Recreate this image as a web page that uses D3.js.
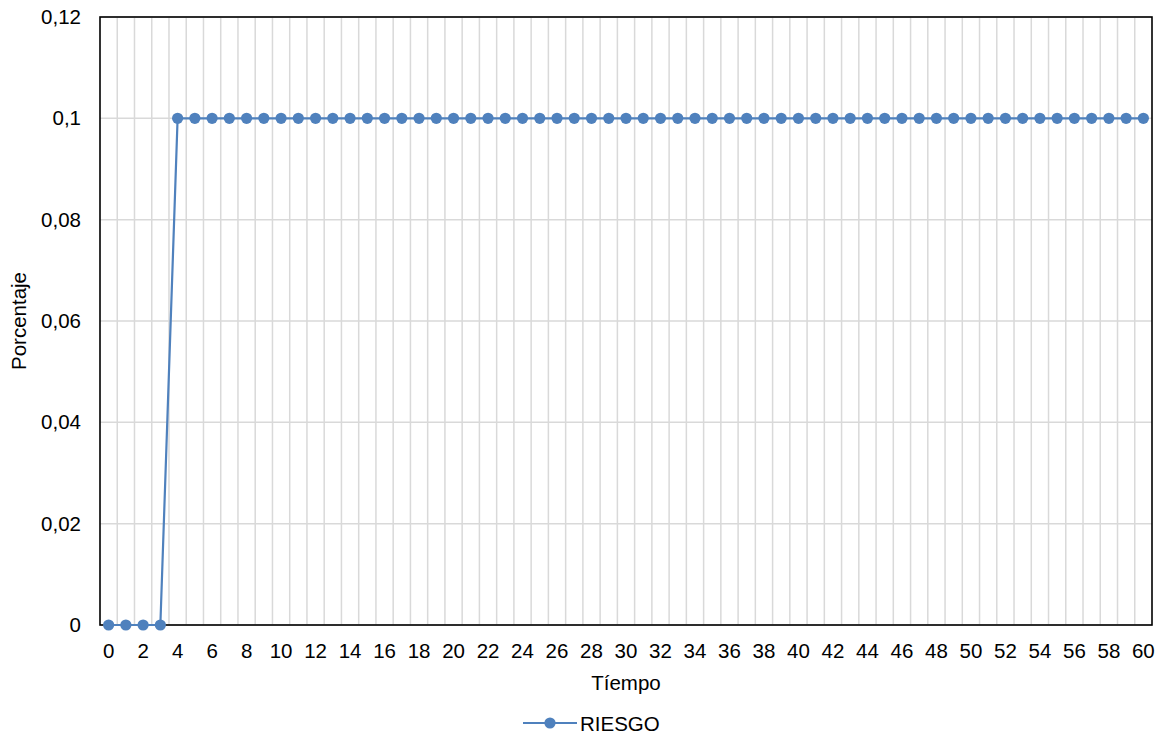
<!DOCTYPE html>
<html>
<head>
<meta charset="utf-8">
<script src="https://cdn.jsdelivr.net/npm/d3@7"></script>
<style>
  body { margin: 0; background: #fff; }
  svg { display: block; font-family: "Liberation Sans", Arial, sans-serif; }
</style>
</head>
<body>
<svg id="chart" width="1160" height="733"></svg>
<script>
// Time steps and risk values
const tiempo = d3.range(0, 61);
const riesgo = [0, 0, 0, 0].concat(new Array(57).fill(0.1));
const yTicks = [0, 0.02, 0.04, 0.06, 0.08, 0.1, 0.12];
const seriesName = "RIESGO";
const xTitle = "Tíempo";
const yTitle = "Porcentaje";

const svg = d3.select("#chart");
const plot = { left: 100, right: 1152, top: 17, bottom: 625 };
const color = "#4f81bd";
const fontSize = 20.5;

const x = d3.scaleBand()
  .domain(tiempo)
  .range([plot.left, plot.right])
  .paddingInner(0).paddingOuter(0);
const y = d3.scaleLinear().domain([0, 0.12]).range([plot.bottom, plot.top]);
const xc = d => x(d) + x.bandwidth() / 2;

// Horizontal gridlines
svg.append("g")
  .selectAll("line")
  .data(yTicks)
  .join("line")
  .attr("x1", plot.left).attr("x2", plot.right)
  .attr("y1", d => y(d)).attr("y2", d => y(d))
  .attr("stroke", "#d9d9d9").attr("stroke-width", 1.5);

// Vertical gridlines at category boundaries
svg.append("g")
  .selectAll("line")
  .data(tiempo.slice(1))
  .join("line")
  .attr("x1", d => x(d)).attr("x2", d => x(d))
  .attr("y1", plot.top).attr("y2", plot.bottom)
  .attr("stroke", "#d9d9d9").attr("stroke-width", 1.5);

// Plot border
svg.append("rect")
  .attr("x", plot.left).attr("y", plot.top)
  .attr("width", plot.right - plot.left).attr("height", plot.bottom - plot.top)
  .attr("fill", "none").attr("stroke", "#000").attr("stroke-width", 1.6);

// Y axis labels
const yAxis = d3.axisLeft(y)
  .tickValues(yTicks)
  .tickSize(0)
  .tickPadding(19)
  .tickFormat(d => d3.format("~g")(+d.toFixed(2)).replace(".", ","));
const gy = svg.append("g").attr("transform", `translate(${plot.left},0)`).call(yAxis);
gy.select(".domain").remove();
gy.selectAll("text").attr("font-size", fontSize).attr("fill", "#000")
  .attr("font-family", "Liberation Sans, Arial, sans-serif");

// X axis labels (every second step)
const xAxis = d3.axisBottom(x)
  .tickValues(tiempo.filter(d => d % 2 === 0))
  .tickSize(0)
  .tickPadding(18);
const gx = svg.append("g").attr("transform", `translate(0,${plot.bottom})`).call(xAxis);
gx.select(".domain").remove();
gx.selectAll("text").attr("font-size", fontSize).attr("fill", "#000")
  .attr("font-family", "Liberation Sans, Arial, sans-serif");

// Series line and markers
const line = d3.line().x((d, i) => xc(tiempo[i])).y(d => y(d));
svg.append("path")
  .datum(riesgo)
  .attr("d", line)
  .attr("fill", "none").attr("stroke", color).attr("stroke-width", 2.2);

svg.append("g")
  .selectAll("circle")
  .data(riesgo)
  .join("circle")
  .attr("cx", (d, i) => xc(tiempo[i]))
  .attr("cy", d => y(d))
  .attr("r", 5.6)
  .attr("fill", color);

// Axis titles
svg.append("text")
  .attr("x", (plot.left + plot.right) / 2).attr("y", 690)
  .attr("text-anchor", "middle").attr("font-size", fontSize)
  .text(xTitle);

svg.append("text")
  .attr("transform", `translate(26,${(plot.top + plot.bottom) / 2}) rotate(-90)`)
  .attr("text-anchor", "middle").attr("font-size", fontSize)
  .text(yTitle);

// Legend
const lg = svg.append("g").attr("transform", "translate(523,723)");
lg.append("line").attr("x1", 0).attr("x2", 54).attr("y1", 0).attr("y2", 0)
  .attr("stroke", color).attr("stroke-width", 2.2);
lg.append("circle").attr("cx", 27).attr("cy", 0).attr("r", 5.6).attr("fill", color);
lg.append("text").attr("x", 57).attr("y", 7.5).attr("font-size", fontSize).text(seriesName);
</script>
</body>
</html>
